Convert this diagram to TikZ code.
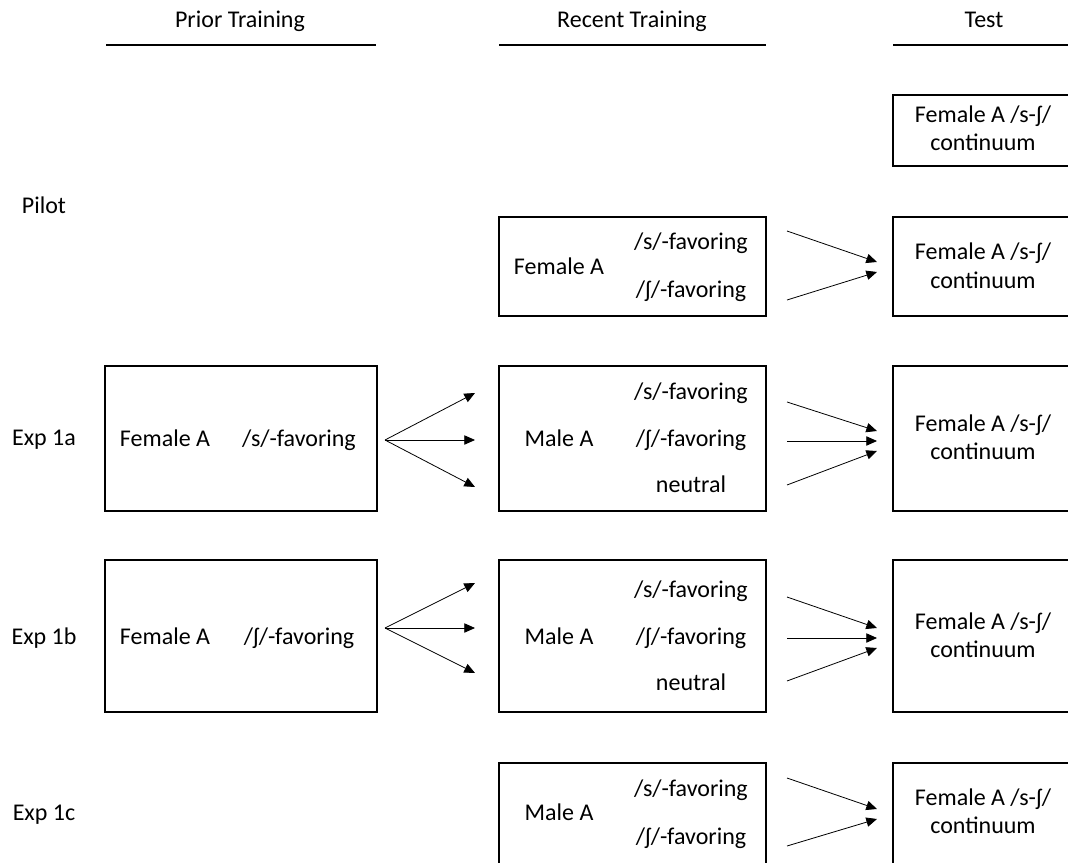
\documentclass[tikz,border=0pt]{standalone}
\usepackage{fontspec}
\setmainfont{Carlito}
\usetikzlibrary{arrows.meta,fit}
\begin{document}
\begin{tikzpicture}[x=0.75pt,y=-0.75pt,
  box/.style={draw=black, line width=1.1pt, inner sep=0pt},
  txt/.style={inner sep=0pt, font=\fontsize{18}{22}\selectfont, text height=0.95em, text depth=0.05em},
  hline/.style={line width=1.1pt},
  arr/.style={line width=0.6pt, -{Triangle[length=8pt,width=7pt]}}]
\useasboundingbox (0,0) rectangle (1068,863);
\clip (0,0) rectangle (1068,863);
% headers
\node[txt] (hp) at (240,22) {Prior Training};
\node[txt] (hr) at (632,22) {Recent Training};
\node[txt] (ht) at (984,22) {Test};
\draw[hline] (106,45) -- (376,45);
\draw[hline] (499,45) -- (766,45);
\draw[hline] (893,45) -- (1075,45);
% row labels
\node[txt] (lp) at (44,208) {Pilot};
\node[txt] (la) at (44,439) {Exp 1a};
\node[txt] (lb) at (44,638) {Exp 1b};
\node[txt] (lc) at (44,814) {Exp 1c};
% boxes
\node[box, fit={(893,95) (1075,166)}] (t0) {};
\node[box, fit={(499,217) (766,316)}] (rp) {};
\node[box, fit={(893,217) (1075,316)}] (tp) {};
\node[box, fit={(105,366) (377,511)}] (pa) {};
\node[box, fit={(499,366) (766,511)}] (ra) {};
\node[box, fit={(893,366) (1075,511)}] (ta) {};
\node[box, fit={(105,560) (377,712)}] (pb) {};
\node[box, fit={(499,560) (766,712)}] (rb) {};
\node[box, fit={(893,560) (1075,712)}] (tb) {};
\node[box, fit={(499,763) (766,880)}] (rc) {};
\node[box, fit={(893,763) (1075,880)}] (tc) {};
% test texts
\node[txt] (t0a) at (983,117) {Female A /s-ʃ/};
\node[txt] (t0b) at (983,145) {continuum};
\node[txt] (tpa) at (983,254) {Female A /s-ʃ/};
\node[txt] (tpb) at (983,282) {continuum};
\node[txt] (taa) at (983,425) {Female A /s-ʃ/};
\node[txt] (tab) at (983,453) {continuum};
\node[txt] (tba) at (983,623) {Female A /s-ʃ/};
\node[txt] (tbb) at (983,651) {continuum};
\node[txt] (tca) at (983,799) {Female A /s-ʃ/};
\node[txt] (tcb) at (983,827) {continuum};
% pilot recent
\node[txt] (rpn) at (559,268) {Female A};
\node[txt] (rps) at (691,243) {/s/-favoring};
\node[txt] (rpe) at (691,291) {/ʃ/-favoring};
% exp 1a
\node[txt] (pan) at (165,440) {Female A};
\node[txt] (pas) at (299,440) {/s/-favoring};
\node[txt] (ran) at (559,440) {Male A};
\node[txt] (ras) at (691,393) {/s/-favoring};
\node[txt] (rae) at (691,440) {/ʃ/-favoring};
\node[txt] (raq) at (691,486) {neutral};
% exp 1b
\node[txt] (pbn) at (165,638) {Female A};
\node[txt] (pbe) at (299,638) {/ʃ/-favoring};
\node[txt] (rbn) at (559,638) {Male A};
\node[txt] (rbs) at (691,591) {/s/-favoring};
\node[txt] (rbe) at (691,638) {/ʃ/-favoring};
\node[txt] (rbq) at (691,684) {neutral};
% exp 1c
\node[txt] (rcn) at (559,814) {Male A};
\node[txt] (rcs) at (691,790) {/s/-favoring};
\node[txt] (rce) at (691,838) {/ʃ/-favoring};
% arrow end points
\coordinate (pao) at (385,440);
\coordinate (pa1) at (475,393);
\coordinate (pa2) at (475,440);
\coordinate (pa3) at (475,487);
\coordinate (pbo) at (385,628);
\coordinate (pb1) at (475,583);
\coordinate (pb2) at (475,628);
\coordinate (pb3) at (475,673);
\coordinate (rp1) at (787,231);
\coordinate (rp2) at (787,300);
\coordinate (tp1) at (877,262);
\coordinate (tp2) at (877,272);
\coordinate (ra1) at (787,402);
\coordinate (ra2) at (787,441);
\coordinate (ra3) at (787,485);
\coordinate (ta1) at (877,431);
\coordinate (ta2) at (877,441);
\coordinate (ta3) at (877,451);
\coordinate (rb1) at (787,597);
\coordinate (rb2) at (787,638);
\coordinate (rb3) at (787,681);
\coordinate (tb1) at (877,628);
\coordinate (tb2) at (877,638);
\coordinate (tb3) at (877,648);
\coordinate (rc1) at (787,778);
\coordinate (rc2) at (787,846);
\coordinate (tc1) at (877,809);
\coordinate (tc2) at (877,819);
% arrows
\draw[arr] (pao) -- (pa1);
\draw[arr] (pao) -- (pa2);
\draw[arr] (pao) -- (pa3);
\draw[arr] (pbo) -- (pb1);
\draw[arr] (pbo) -- (pb2);
\draw[arr] (pbo) -- (pb3);
\draw[arr] (rp1) -- (tp1);
\draw[arr] (rp2) -- (tp2);
\draw[arr] (ra1) -- (ta1);
\draw[arr] (ra2) -- (ta2);
\draw[arr] (ra3) -- (ta3);
\draw[arr] (rb1) -- (tb1);
\draw[arr] (rb2) -- (tb2);
\draw[arr] (rb3) -- (tb3);
\draw[arr] (rc1) -- (tc1);
\draw[arr] (rc2) -- (tc2);
\end{tikzpicture}
\end{document}
